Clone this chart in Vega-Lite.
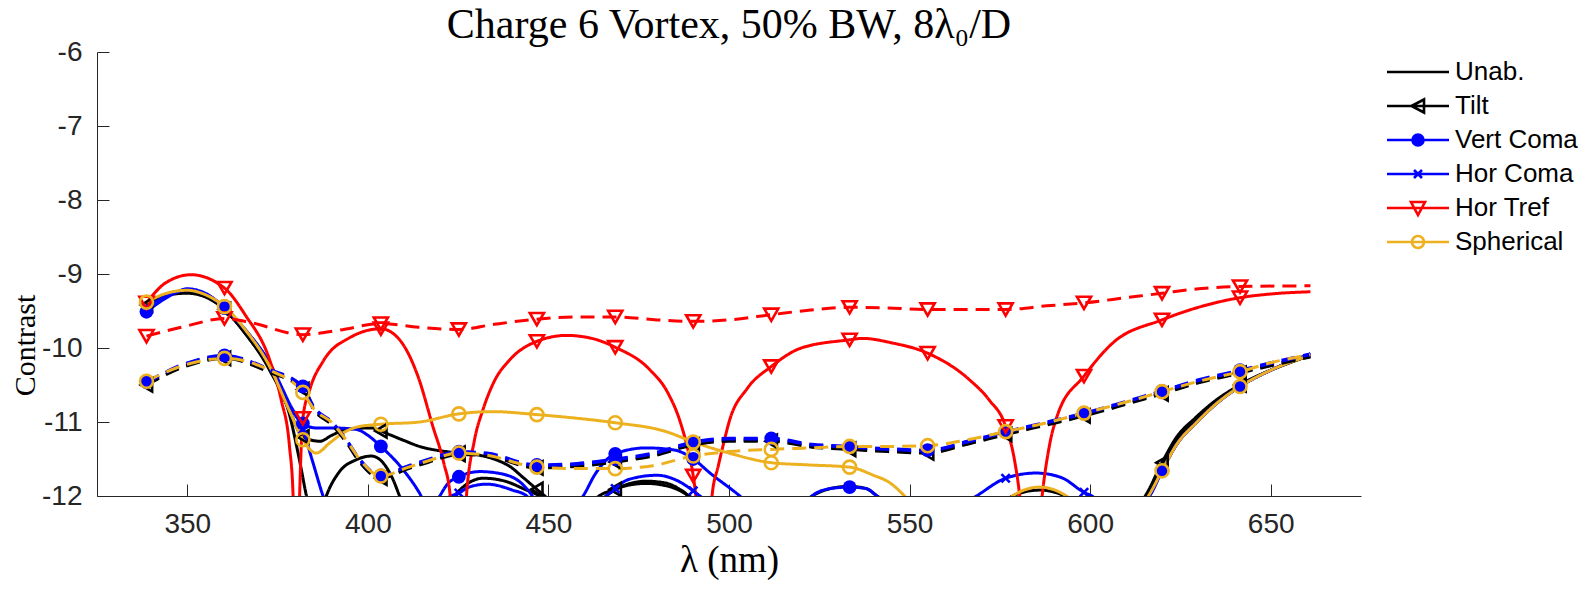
{
"$schema":"https://vega.github.io/schema/vega-lite/v6.json",
"width":1264,"height":444,
"autosize":"none",
"padding":{"left":97,"top":52,"right":225,"bottom":94},
"background":"white",
"title":{"text":"Charge 6 Vortex, 50% BW, 8λ₀/D","font":"Liberation Serif","fontSize":42,"fontWeight":"normal","color":"black","offset":8,"dy":17},
"config":{"view":{"stroke":null},"axis":{"grid":false,"domainColor":"#262626","tickColor":"#262626","labelColor":"#262626","labelFont":"Liberation Sans","labelFontSize":28,"tickSize":-12,"domainWidth":1,"tickWidth":1,"titleFont":"Liberation Serif","titleFontWeight":"normal","titleColor":"black"}},
"datasets":{"d":[
{"wl":338.7,"c":-9.4,"ab":"Unab.","st":"s"},{"wl":345,"c":-9.27,"ab":"Unab.","st":"s"},{"wl":350,"c":-9.25,"ab":"Unab.","st":"s"},{"wl":355,"c":-9.3,"ab":"Unab.","st":"s"},{"wl":360.3,"c":-9.48,"ab":"Unab.","st":"s"},{"wl":366,"c":-9.8,"ab":"Unab.","st":"s"},{"wl":372.8,"c":-10.3,"ab":"Unab.","st":"s"},{"wl":378.3,"c":-10.9,"ab":"Unab.","st":"s"},{"wl":381,"c":-11.5,"ab":"Unab.","st":"s"},{"wl":383,"c":-12,"ab":"Unab.","st":"s"},{"wl":385.5,"c":-12.5,"ab":"Unab.","st":"s"},{"wl":388.5,"c":-12,"ab":"Unab.","st":"s"},{"wl":392,"c":-11.68,"ab":"Unab.","st":"s"},{"wl":396.8,"c":-11.51,"ab":"Unab.","st":"s"},{"wl":401,"c":-11.46,"ab":"Unab.","st":"s"},{"wl":403.6,"c":-11.52,"ab":"Unab.","st":"s"},{"wl":407,"c":-11.78,"ab":"Unab.","st":"s"},{"wl":408.8,"c":-12,"ab":"Unab.","st":"s"},{"wl":414,"c":-12.4,"ab":"Unab.","st":"s"},{"wl":420,"c":-12.3,"ab":"Unab.","st":"s"},{"wl":424,"c":-12,"ab":"Unab.","st":"s"},{"wl":428,"c":-11.82,"ab":"Unab.","st":"s"},{"wl":432,"c":-11.76,"ab":"Unab.","st":"s"},{"wl":438,"c":-11.8,"ab":"Unab.","st":"s"},{"wl":443.9,"c":-11.92,"ab":"Unab.","st":"s"},{"wl":447.6,"c":-12,"ab":"Unab.","st":"s"},{"wl":455,"c":-12.3,"ab":"Unab.","st":"s"},{"wl":462,"c":-12.2,"ab":"Unab.","st":"s"},{"wl":466,"c":-12,"ab":"Unab.","st":"s"},{"wl":470,"c":-11.88,"ab":"Unab.","st":"s"},{"wl":477,"c":-11.83,"ab":"Unab.","st":"s"},{"wl":484,"c":-11.88,"ab":"Unab.","st":"s"},{"wl":489,"c":-12,"ab":"Unab.","st":"s"},{"wl":500,"c":-12.5,"ab":"Unab.","st":"s"},{"wl":512,"c":-12.5,"ab":"Unab.","st":"s"},{"wl":523,"c":-12,"ab":"Unab.","st":"s"},{"wl":528,"c":-11.9,"ab":"Unab.","st":"s"},{"wl":533.4,"c":-11.87,"ab":"Unab.","st":"s"},{"wl":538,"c":-11.9,"ab":"Unab.","st":"s"},{"wl":541,"c":-12,"ab":"Unab.","st":"s"},{"wl":555,"c":-12.5,"ab":"Unab.","st":"s"},{"wl":570,"c":-12.4,"ab":"Unab.","st":"s"},{"wl":578.5,"c":-12,"ab":"Unab.","st":"s"},{"wl":586,"c":-11.92,"ab":"Unab.","st":"s"},{"wl":593,"c":-12,"ab":"Unab.","st":"s"},{"wl":605,"c":-12.5,"ab":"Unab.","st":"s"},{"wl":612,"c":-12.3,"ab":"Unab.","st":"s"},{"wl":616,"c":-12,"ab":"Unab.","st":"s"},{"wl":619.9,"c":-11.62,"ab":"Unab.","st":"s"},{"wl":624,"c":-11.25,"ab":"Unab.","st":"s"},{"wl":629.4,"c":-10.98,"ab":"Unab.","st":"s"},{"wl":635,"c":-10.73,"ab":"Unab.","st":"s"},{"wl":641.5,"c":-10.5,"ab":"Unab.","st":"s"},{"wl":650,"c":-10.3,"ab":"Unab.","st":"s"},{"wl":661,"c":-10.1,"ab":"Unab.","st":"s"},

{"wl":338.7,"c":-9.42,"ab":"Tilt","st":"s","m":1},{"wl":345,"c":-9.28,"ab":"Tilt","st":"s"},{"wl":350,"c":-9.26,"ab":"Tilt","st":"s"},{"wl":355,"c":-9.31,"ab":"Tilt","st":"s"},{"wl":360.3,"c":-9.48,"ab":"Tilt","st":"s","m":1},{"wl":366,"c":-9.8,"ab":"Tilt","st":"s"},{"wl":372.8,"c":-10.28,"ab":"Tilt","st":"s"},{"wl":378.3,"c":-10.85,"ab":"Tilt","st":"s"},{"wl":382,"c":-11.2,"ab":"Tilt","st":"s","m":1},{"wl":386.7,"c":-11.26,"ab":"Tilt","st":"s"},{"wl":390,"c":-11.18,"ab":"Tilt","st":"s"},{"wl":394.1,"c":-11.1,"ab":"Tilt","st":"s"},{"wl":401,"c":-11.08,"ab":"Tilt","st":"s"},{"wl":403.6,"c":-11.12,"ab":"Tilt","st":"s","m":1},{"wl":406,"c":-11.17,"ab":"Tilt","st":"s"},{"wl":410,"c":-11.25,"ab":"Tilt","st":"s"},{"wl":414.3,"c":-11.33,"ab":"Tilt","st":"s"},{"wl":421.7,"c":-11.4,"ab":"Tilt","st":"s"},{"wl":425.2,"c":-11.42,"ab":"Tilt","st":"s","m":1},{"wl":431,"c":-11.45,"ab":"Tilt","st":"s"},{"wl":436,"c":-11.52,"ab":"Tilt","st":"s"},{"wl":439.3,"c":-11.6,"ab":"Tilt","st":"s"},{"wl":443,"c":-11.75,"ab":"Tilt","st":"s"},{"wl":446.8,"c":-11.91,"ab":"Tilt","st":"s","m":1},{"wl":449,"c":-12,"ab":"Tilt","st":"s"},{"wl":455,"c":-12.3,"ab":"Tilt","st":"s"},{"wl":460,"c":-12.2,"ab":"Tilt","st":"s"},{"wl":464,"c":-12,"ab":"Tilt","st":"s"},{"wl":468.5,"c":-11.91,"ab":"Tilt","st":"s","m":1},{"wl":472,"c":-11.84,"ab":"Tilt","st":"s"},{"wl":477,"c":-11.8,"ab":"Tilt","st":"s"},{"wl":482,"c":-11.82,"ab":"Tilt","st":"s"},{"wl":486,"c":-11.9,"ab":"Tilt","st":"s"},{"wl":488.5,"c":-12,"ab":"Tilt","st":"s"},{"wl":490.1,"c":-12.2,"ab":"Tilt","st":"s","m":1},{"wl":500,"c":-12.6,"ab":"Tilt","st":"s"},{"wl":511.7,"c":-12.7,"ab":"Tilt","st":"s","m":1},{"wl":533.4,"c":-12.5,"ab":"Tilt","st":"s","m":1},{"wl":555,"c":-12.8,"ab":"Tilt","st":"s","m":1},{"wl":576.6,"c":-12.5,"ab":"Tilt","st":"s","m":1},{"wl":598.3,"c":-12.4,"ab":"Tilt","st":"s","m":1},{"wl":610,"c":-12.3,"ab":"Tilt","st":"s"},{"wl":615.5,"c":-11.98,"ab":"Tilt","st":"s"},{"wl":619.9,"c":-11.55,"ab":"Tilt","st":"s","m":1},{"wl":624,"c":-11.2,"ab":"Tilt","st":"s"},{"wl":629,"c":-10.95,"ab":"Tilt","st":"s"},{"wl":635,"c":-10.7,"ab":"Tilt","st":"s"},{"wl":641.5,"c":-10.5,"ab":"Tilt","st":"s","m":1},{"wl":650,"c":-10.3,"ab":"Tilt","st":"s"},{"wl":661,"c":-10.1,"ab":"Tilt","st":"s"},

{"wl":338.7,"c":-9.51,"ab":"Vert Coma","st":"s","m":1},{"wl":345,"c":-9.3,"ab":"Vert Coma","st":"s"},{"wl":350,"c":-9.2,"ab":"Vert Coma","st":"s"},{"wl":355,"c":-9.26,"ab":"Vert Coma","st":"s"},{"wl":360.3,"c":-9.46,"ab":"Vert Coma","st":"s","m":1},{"wl":366,"c":-9.75,"ab":"Vert Coma","st":"s"},{"wl":372.8,"c":-10.22,"ab":"Vert Coma","st":"s"},{"wl":378.3,"c":-10.79,"ab":"Vert Coma","st":"s"},{"wl":382,"c":-11.02,"ab":"Vert Coma","st":"s","m":1},{"wl":385.7,"c":-11.08,"ab":"Vert Coma","st":"s"},{"wl":390,"c":-11.08,"ab":"Vert Coma","st":"s"},{"wl":396.8,"c":-11.1,"ab":"Vert Coma","st":"s"},{"wl":400,"c":-11.18,"ab":"Vert Coma","st":"s"},{"wl":403.6,"c":-11.33,"ab":"Vert Coma","st":"s","m":1},{"wl":409,"c":-11.6,"ab":"Vert Coma","st":"s"},{"wl":414.3,"c":-11.96,"ab":"Vert Coma","st":"s"},{"wl":417,"c":-12.2,"ab":"Vert Coma","st":"s"},{"wl":419.9,"c":-12,"ab":"Vert Coma","st":"s"},{"wl":422,"c":-11.84,"ab":"Vert Coma","st":"s"},{"wl":425.2,"c":-11.74,"ab":"Vert Coma","st":"s","m":1},{"wl":431,"c":-11.67,"ab":"Vert Coma","st":"s"},{"wl":437,"c":-11.7,"ab":"Vert Coma","st":"s"},{"wl":443,"c":-11.85,"ab":"Vert Coma","st":"s"},{"wl":445.5,"c":-12,"ab":"Vert Coma","st":"s"},{"wl":446.8,"c":-12.12,"ab":"Vert Coma","st":"s","m":1},{"wl":452,"c":-12.3,"ab":"Vert Coma","st":"s"},{"wl":459.6,"c":-12,"ab":"Vert Coma","st":"s"},{"wl":463,"c":-11.7,"ab":"Vert Coma","st":"s"},{"wl":468.5,"c":-11.43,"ab":"Vert Coma","st":"s","m":1},{"wl":477,"c":-11.35,"ab":"Vert Coma","st":"s"},{"wl":485,"c":-11.38,"ab":"Vert Coma","st":"s"},{"wl":490.1,"c":-11.5,"ab":"Vert Coma","st":"s","m":1},{"wl":495,"c":-11.7,"ab":"Vert Coma","st":"s"},{"wl":503,"c":-12,"ab":"Vert Coma","st":"s"},{"wl":511.7,"c":-12.4,"ab":"Vert Coma","st":"s","m":1},{"wl":520,"c":-12.2,"ab":"Vert Coma","st":"s"},{"wl":523,"c":-12,"ab":"Vert Coma","st":"s"},{"wl":528,"c":-11.9,"ab":"Vert Coma","st":"s"},{"wl":533.4,"c":-11.88,"ab":"Vert Coma","st":"s","m":1},{"wl":538,"c":-11.9,"ab":"Vert Coma","st":"s"},{"wl":541,"c":-12,"ab":"Vert Coma","st":"s"},{"wl":555,"c":-12.5,"ab":"Vert Coma","st":"s","m":1},{"wl":576.6,"c":-12.4,"ab":"Vert Coma","st":"s","m":1},{"wl":598.3,"c":-12.4,"ab":"Vert Coma","st":"s","m":1},{"wl":610,"c":-12.3,"ab":"Vert Coma","st":"s"},{"wl":616.4,"c":-12,"ab":"Vert Coma","st":"s"},{"wl":619.9,"c":-11.66,"ab":"Vert Coma","st":"s","m":1},{"wl":624,"c":-11.3,"ab":"Vert Coma","st":"s"},{"wl":629.4,"c":-11.01,"ab":"Vert Coma","st":"s"},{"wl":635,"c":-10.75,"ab":"Vert Coma","st":"s"},{"wl":641.5,"c":-10.52,"ab":"Vert Coma","st":"s","m":1},{"wl":650,"c":-10.3,"ab":"Vert Coma","st":"s"},{"wl":661,"c":-10.08,"ab":"Vert Coma","st":"s"},

{"wl":338.7,"c":-9.45,"ab":"Hor Coma","st":"s","m":1},{"wl":345,"c":-9.28,"ab":"Hor Coma","st":"s"},{"wl":350,"c":-9.22,"ab":"Hor Coma","st":"s"},{"wl":355,"c":-9.27,"ab":"Hor Coma","st":"s"},{"wl":360.3,"c":-9.45,"ab":"Hor Coma","st":"s","m":1},{"wl":366,"c":-9.75,"ab":"Hor Coma","st":"s"},{"wl":372.8,"c":-10.2,"ab":"Hor Coma","st":"s"},{"wl":378.3,"c":-10.75,"ab":"Hor Coma","st":"s"},{"wl":382,"c":-11.1,"ab":"Hor Coma","st":"s","m":1},{"wl":384.5,"c":-11.5,"ab":"Hor Coma","st":"s"},{"wl":387.6,"c":-12,"ab":"Hor Coma","st":"s"},{"wl":392,"c":-12.5,"ab":"Hor Coma","st":"s"},{"wl":403.6,"c":-12.6,"ab":"Hor Coma","st":"s","m":1},{"wl":418,"c":-12.2,"ab":"Hor Coma","st":"s"},{"wl":423,"c":-12,"ab":"Hor Coma","st":"s"},{"wl":425.2,"c":-11.96,"ab":"Hor Coma","st":"s","m":1},{"wl":428,"c":-11.88,"ab":"Hor Coma","st":"s"},{"wl":433,"c":-11.84,"ab":"Hor Coma","st":"s"},{"wl":440,"c":-11.92,"ab":"Hor Coma","st":"s"},{"wl":444,"c":-12,"ab":"Hor Coma","st":"s"},{"wl":446.8,"c":-12.2,"ab":"Hor Coma","st":"s","m":1},{"wl":455,"c":-12.4,"ab":"Hor Coma","st":"s"},{"wl":462,"c":-12.2,"ab":"Hor Coma","st":"s"},{"wl":466,"c":-12,"ab":"Hor Coma","st":"s"},{"wl":468.5,"c":-11.9,"ab":"Hor Coma","st":"s","m":1},{"wl":472,"c":-11.78,"ab":"Hor Coma","st":"s"},{"wl":480,"c":-11.72,"ab":"Hor Coma","st":"s"},{"wl":486,"c":-11.8,"ab":"Hor Coma","st":"s"},{"wl":490.1,"c":-11.93,"ab":"Hor Coma","st":"s","m":1},{"wl":492,"c":-12,"ab":"Hor Coma","st":"s"},{"wl":511.7,"c":-12.5,"ab":"Hor Coma","st":"s","m":1},{"wl":533.4,"c":-12.6,"ab":"Hor Coma","st":"s","m":1},{"wl":555,"c":-12.4,"ab":"Hor Coma","st":"s","m":1},{"wl":568.5,"c":-12,"ab":"Hor Coma","st":"s"},{"wl":576.6,"c":-11.76,"ab":"Hor Coma","st":"s","m":1},{"wl":585,"c":-11.69,"ab":"Hor Coma","st":"s"},{"wl":592,"c":-11.75,"ab":"Hor Coma","st":"s"},{"wl":598.3,"c":-11.95,"ab":"Hor Coma","st":"s","m":1},{"wl":600.5,"c":-12,"ab":"Hor Coma","st":"s"},{"wl":607,"c":-12.3,"ab":"Hor Coma","st":"s"},{"wl":613,"c":-12.1,"ab":"Hor Coma","st":"s"},{"wl":616.4,"c":-12,"ab":"Hor Coma","st":"s"},{"wl":619.9,"c":-11.66,"ab":"Hor Coma","st":"s","m":1},{"wl":624,"c":-11.3,"ab":"Hor Coma","st":"s"},{"wl":629.4,"c":-11.01,"ab":"Hor Coma","st":"s"},{"wl":635,"c":-10.75,"ab":"Hor Coma","st":"s"},{"wl":641.5,"c":-10.52,"ab":"Hor Coma","st":"s","m":1},{"wl":650,"c":-10.3,"ab":"Hor Coma","st":"s"},{"wl":661,"c":-10.08,"ab":"Hor Coma","st":"s"},

{"wl":338.7,"c":-9.39,"ab":"Hor Tref","st":"s","m":1},{"wl":344,"c":-9.12,"ab":"Hor Tref","st":"s"},{"wl":351,"c":-9.01,"ab":"Hor Tref","st":"s"},{"wl":360.3,"c":-9.19,"ab":"Hor Tref","st":"s","m":1},{"wl":366,"c":-9.55,"ab":"Hor Tref","st":"s"},{"wl":372.8,"c":-10.16,"ab":"Hor Tref","st":"s"},{"wl":376,"c":-10.7,"ab":"Hor Tref","st":"s"},{"wl":378.3,"c":-11.33,"ab":"Hor Tref","st":"s"},{"wl":379.3,"c":-12,"ab":"Hor Tref","st":"s"},{"wl":380.2,"c":-14,"ab":"Hor Tref","st":"s"},{"wl":381.1,"c":-12,"ab":"Hor Tref","st":"s"},{"wl":382,"c":-10.95,"ab":"Hor Tref","st":"s","m":1},{"wl":384,"c":-10.55,"ab":"Hor Tref","st":"s"},{"wl":387.6,"c":-10.18,"ab":"Hor Tref","st":"s"},{"wl":395,"c":-9.86,"ab":"Hor Tref","st":"s"},{"wl":403.6,"c":-9.74,"ab":"Hor Tref","st":"s","m":1},{"wl":408.8,"c":-9.89,"ab":"Hor Tref","st":"s"},{"wl":414,"c":-10.4,"ab":"Hor Tref","st":"s"},{"wl":418,"c":-11.06,"ab":"Hor Tref","st":"s"},{"wl":421,"c":-11.55,"ab":"Hor Tref","st":"s"},{"wl":422.8,"c":-12,"ab":"Hor Tref","st":"s"},{"wl":425.2,"c":-14,"ab":"Hor Tref","st":"s","m":1},{"wl":427.3,"c":-12,"ab":"Hor Tref","st":"s"},{"wl":429.5,"c":-11.25,"ab":"Hor Tref","st":"s"},{"wl":431.9,"c":-10.83,"ab":"Hor Tref","st":"s"},{"wl":435,"c":-10.45,"ab":"Hor Tref","st":"s"},{"wl":439.3,"c":-10.16,"ab":"Hor Tref","st":"s"},{"wl":446.8,"c":-9.91,"ab":"Hor Tref","st":"s","m":1},{"wl":455,"c":-9.83,"ab":"Hor Tref","st":"s"},{"wl":462,"c":-9.87,"ab":"Hor Tref","st":"s"},{"wl":468.5,"c":-9.99,"ab":"Hor Tref","st":"s","m":1},{"wl":478,"c":-10.29,"ab":"Hor Tref","st":"s"},{"wl":483,"c":-10.6,"ab":"Hor Tref","st":"s"},{"wl":486.3,"c":-10.97,"ab":"Hor Tref","st":"s"},{"wl":488.5,"c":-11.35,"ab":"Hor Tref","st":"s"},{"wl":490.1,"c":-11.73,"ab":"Hor Tref","st":"s","m":1},{"wl":490.8,"c":-12,"ab":"Hor Tref","st":"s"},{"wl":493,"c":-14,"ab":"Hor Tref","st":"s"},{"wl":495.3,"c":-12,"ab":"Hor Tref","st":"s"},{"wl":497,"c":-11.6,"ab":"Hor Tref","st":"s"},{"wl":498.3,"c":-11.33,"ab":"Hor Tref","st":"s"},{"wl":500.2,"c":-10.97,"ab":"Hor Tref","st":"s"},{"wl":505,"c":-10.55,"ab":"Hor Tref","st":"s"},{"wl":511.7,"c":-10.25,"ab":"Hor Tref","st":"s","m":1},{"wl":520,"c":-10.0,"ab":"Hor Tref","st":"s"},{"wl":533.4,"c":-9.89,"ab":"Hor Tref","st":"s","m":1},{"wl":537,"c":-9.87,"ab":"Hor Tref","st":"s"},{"wl":545,"c":-9.93,"ab":"Hor Tref","st":"s"},{"wl":555,"c":-10.07,"ab":"Hor Tref","st":"s","m":1},{"wl":566.6,"c":-10.43,"ab":"Hor Tref","st":"s"},{"wl":572,"c":-10.7,"ab":"Hor Tref","st":"s"},{"wl":576.6,"c":-11.06,"ab":"Hor Tref","st":"s","m":1},{"wl":579,"c":-11.5,"ab":"Hor Tref","st":"s"},{"wl":580.5,"c":-12,"ab":"Hor Tref","st":"s"},{"wl":583.5,"c":-14,"ab":"Hor Tref","st":"s"},{"wl":586.7,"c":-12,"ab":"Hor Tref","st":"s"},{"wl":588.8,"c":-11.3,"ab":"Hor Tref","st":"s"},{"wl":591,"c":-10.9,"ab":"Hor Tref","st":"s"},{"wl":598.3,"c":-10.38,"ab":"Hor Tref","st":"s","m":1},{"wl":606.3,"c":-9.93,"ab":"Hor Tref","st":"s"},{"wl":619.9,"c":-9.62,"ab":"Hor Tref","st":"s","m":1},{"wl":630,"c":-9.45,"ab":"Hor Tref","st":"s"},{"wl":641.5,"c":-9.32,"ab":"Hor Tref","st":"s","m":1},{"wl":650,"c":-9.27,"ab":"Hor Tref","st":"s"},{"wl":661,"c":-9.24,"ab":"Hor Tref","st":"s"},

{"wl":338.7,"c":-9.38,"ab":"Spherical","st":"s","m":1},{"wl":345,"c":-9.25,"ab":"Spherical","st":"s"},{"wl":350,"c":-9.22,"ab":"Spherical","st":"s"},{"wl":355,"c":-9.28,"ab":"Spherical","st":"s"},{"wl":360.3,"c":-9.44,"ab":"Spherical","st":"s","m":1},{"wl":366,"c":-9.75,"ab":"Spherical","st":"s"},{"wl":372.8,"c":-10.25,"ab":"Spherical","st":"s"},{"wl":378.3,"c":-10.85,"ab":"Spherical","st":"s"},{"wl":382,"c":-11.24,"ab":"Spherical","st":"s","m":1},{"wl":385.7,"c":-11.42,"ab":"Spherical","st":"s"},{"wl":389.5,"c":-11.28,"ab":"Spherical","st":"s"},{"wl":393.1,"c":-11.15,"ab":"Spherical","st":"s"},{"wl":396.8,"c":-11.07,"ab":"Spherical","st":"s"},{"wl":403.6,"c":-11.03,"ab":"Spherical","st":"s","m":1},{"wl":414.3,"c":-11.0,"ab":"Spherical","st":"s"},{"wl":425.2,"c":-10.89,"ab":"Spherical","st":"s","m":1},{"wl":434.6,"c":-10.86,"ab":"Spherical","st":"s"},{"wl":446.8,"c":-10.9,"ab":"Spherical","st":"s","m":1},{"wl":458,"c":-10.95,"ab":"Spherical","st":"s"},{"wl":468.5,"c":-11.01,"ab":"Spherical","st":"s","m":1},{"wl":482.6,"c":-11.13,"ab":"Spherical","st":"s"},{"wl":490.1,"c":-11.27,"ab":"Spherical","st":"s","m":1},{"wl":500,"c":-11.42,"ab":"Spherical","st":"s"},{"wl":511.7,"c":-11.55,"ab":"Spherical","st":"s","m":1},{"wl":522,"c":-11.58,"ab":"Spherical","st":"s"},{"wl":533.4,"c":-11.61,"ab":"Spherical","st":"s","m":1},{"wl":540,"c":-11.72,"ab":"Spherical","st":"s"},{"wl":544.5,"c":-11.82,"ab":"Spherical","st":"s"},{"wl":548.6,"c":-12,"ab":"Spherical","st":"s"},{"wl":555,"c":-12.4,"ab":"Spherical","st":"s","m":1},{"wl":565,"c":-12.6,"ab":"Spherical","st":"s"},{"wl":572,"c":-12.4,"ab":"Spherical","st":"s"},{"wl":576.6,"c":-12.2,"ab":"Spherical","st":"s","m":1},{"wl":578.5,"c":-12,"ab":"Spherical","st":"s"},{"wl":586,"c":-11.88,"ab":"Spherical","st":"s"},{"wl":593.4,"c":-12,"ab":"Spherical","st":"s"},{"wl":598.3,"c":-12.3,"ab":"Spherical","st":"s","m":1},{"wl":605,"c":-12.6,"ab":"Spherical","st":"s"},{"wl":612,"c":-12.3,"ab":"Spherical","st":"s"},{"wl":616.4,"c":-11.98,"ab":"Spherical","st":"s"},{"wl":619.9,"c":-11.66,"ab":"Spherical","st":"s","m":1},{"wl":624,"c":-11.3,"ab":"Spherical","st":"s"},{"wl":629.4,"c":-11.01,"ab":"Spherical","st":"s"},{"wl":635,"c":-10.75,"ab":"Spherical","st":"s"},{"wl":641.5,"c":-10.52,"ab":"Spherical","st":"s","m":1},{"wl":650,"c":-10.3,"ab":"Spherical","st":"s"},{"wl":661,"c":-10.1,"ab":"Spherical","st":"s"},

{"wl":338.7,"c":-9.84,"ab":"Hor Tref","st":"d","m":1},{"wl":350,"c":-9.7,"ab":"Hor Tref","st":"d"},{"wl":360.3,"c":-9.6,"ab":"Hor Tref","st":"d","m":1},{"wl":367,"c":-9.65,"ab":"Hor Tref","st":"d"},{"wl":382,"c":-9.82,"ab":"Hor Tref","st":"d","m":1},{"wl":392,"c":-9.76,"ab":"Hor Tref","st":"d"},{"wl":403.6,"c":-9.67,"ab":"Hor Tref","st":"d","m":1},{"wl":414,"c":-9.72,"ab":"Hor Tref","st":"d"},{"wl":425.2,"c":-9.75,"ab":"Hor Tref","st":"d","m":1},{"wl":435,"c":-9.68,"ab":"Hor Tref","st":"d"},{"wl":446.8,"c":-9.61,"ab":"Hor Tref","st":"d","m":1},{"wl":458,"c":-9.58,"ab":"Hor Tref","st":"d"},{"wl":468.5,"c":-9.58,"ab":"Hor Tref","st":"d","m":1},{"wl":480,"c":-9.62,"ab":"Hor Tref","st":"d"},{"wl":490.1,"c":-9.64,"ab":"Hor Tref","st":"d","m":1},{"wl":500,"c":-9.62,"ab":"Hor Tref","st":"d"},{"wl":511.7,"c":-9.55,"ab":"Hor Tref","st":"d","m":1},{"wl":522,"c":-9.49,"ab":"Hor Tref","st":"d"},{"wl":533.4,"c":-9.45,"ab":"Hor Tref","st":"d","m":1},{"wl":544,"c":-9.46,"ab":"Hor Tref","st":"d"},{"wl":555,"c":-9.48,"ab":"Hor Tref","st":"d","m":1},{"wl":566,"c":-9.48,"ab":"Hor Tref","st":"d"},{"wl":576.6,"c":-9.48,"ab":"Hor Tref","st":"d","m":1},{"wl":588,"c":-9.43,"ab":"Hor Tref","st":"d"},{"wl":598.3,"c":-9.39,"ab":"Hor Tref","st":"d","m":1},{"wl":610,"c":-9.32,"ab":"Hor Tref","st":"d"},{"wl":619.9,"c":-9.26,"ab":"Hor Tref","st":"d","m":1},{"wl":630,"c":-9.2,"ab":"Hor Tref","st":"d"},{"wl":641.5,"c":-9.17,"ab":"Hor Tref","st":"d","m":1},{"wl":661,"c":-9.16,"ab":"Hor Tref","st":"d"},

{"wl":338.7,"c":-10.49,"ab":"Unab.","st":"d"},{"wl":350,"c":-10.23,"ab":"Unab.","st":"d"},{"wl":360.3,"c":-10.13,"ab":"Unab.","st":"d"},{"wl":372.8,"c":-10.32,"ab":"Unab.","st":"d"},{"wl":382,"c":-10.55,"ab":"Unab.","st":"d"},{"wl":385,"c":-10.82,"ab":"Unab.","st":"d"},{"wl":390.3,"c":-11.04,"ab":"Unab.","st":"d"},{"wl":394.1,"c":-11.27,"ab":"Unab.","st":"d"},{"wl":397.7,"c":-11.53,"ab":"Unab.","st":"d"},{"wl":403.6,"c":-11.75,"ab":"Unab.","st":"d"},{"wl":410.7,"c":-11.63,"ab":"Unab.","st":"d"},{"wl":417,"c":-11.53,"ab":"Unab.","st":"d"},{"wl":425.2,"c":-11.43,"ab":"Unab.","st":"d"},{"wl":433,"c":-11.45,"ab":"Unab.","st":"d"},{"wl":446.8,"c":-11.61,"ab":"Unab.","st":"d"},{"wl":458,"c":-11.59,"ab":"Unab.","st":"d"},{"wl":468.5,"c":-11.53,"ab":"Unab.","st":"d"},{"wl":478.9,"c":-11.45,"ab":"Unab.","st":"d"},{"wl":490.1,"c":-11.3,"ab":"Unab.","st":"d"},{"wl":500,"c":-11.25,"ab":"Unab.","st":"d"},{"wl":511.7,"c":-11.25,"ab":"Unab.","st":"d"},{"wl":523,"c":-11.33,"ab":"Unab.","st":"d"},{"wl":533.4,"c":-11.36,"ab":"Unab.","st":"d"},{"wl":544,"c":-11.39,"ab":"Unab.","st":"d"},{"wl":555,"c":-11.41,"ab":"Unab.","st":"d"},{"wl":566,"c":-11.29,"ab":"Unab.","st":"d"},{"wl":576.6,"c":-11.16,"ab":"Unab.","st":"d"},{"wl":588,"c":-11.03,"ab":"Unab.","st":"d"},{"wl":598.3,"c":-10.91,"ab":"Unab.","st":"d"},{"wl":610,"c":-10.75,"ab":"Unab.","st":"d"},{"wl":619.9,"c":-10.61,"ab":"Unab.","st":"d"},{"wl":630,"c":-10.46,"ab":"Unab.","st":"d"},{"wl":641.5,"c":-10.33,"ab":"Unab.","st":"d"},{"wl":650,"c":-10.23,"ab":"Unab.","st":"d"},{"wl":661,"c":-10.11,"ab":"Unab.","st":"d"},

{"wl":338.7,"c":-10.5,"ab":"Tilt","st":"d","m":1},{"wl":350,"c":-10.24,"ab":"Tilt","st":"d"},{"wl":360.3,"c":-10.14,"ab":"Tilt","st":"d","m":1},{"wl":372.8,"c":-10.33,"ab":"Tilt","st":"d"},{"wl":382,"c":-10.56,"ab":"Tilt","st":"d","m":1},{"wl":385,"c":-10.83,"ab":"Tilt","st":"d"},{"wl":390.3,"c":-11.05,"ab":"Tilt","st":"d"},{"wl":394.1,"c":-11.28,"ab":"Tilt","st":"d"},{"wl":397.7,"c":-11.54,"ab":"Tilt","st":"d"},{"wl":403.6,"c":-11.76,"ab":"Tilt","st":"d","m":1},{"wl":410.7,"c":-11.64,"ab":"Tilt","st":"d"},{"wl":417,"c":-11.54,"ab":"Tilt","st":"d"},{"wl":425.2,"c":-11.44,"ab":"Tilt","st":"d","m":1},{"wl":433,"c":-11.46,"ab":"Tilt","st":"d"},{"wl":446.8,"c":-11.62,"ab":"Tilt","st":"d","m":1},{"wl":458,"c":-11.6,"ab":"Tilt","st":"d"},{"wl":468.5,"c":-11.54,"ab":"Tilt","st":"d","m":1},{"wl":478.9,"c":-11.46,"ab":"Tilt","st":"d"},{"wl":490.1,"c":-11.31,"ab":"Tilt","st":"d","m":1},{"wl":500,"c":-11.26,"ab":"Tilt","st":"d"},{"wl":511.7,"c":-11.26,"ab":"Tilt","st":"d","m":1},{"wl":523,"c":-11.34,"ab":"Tilt","st":"d"},{"wl":533.4,"c":-11.37,"ab":"Tilt","st":"d","m":1},{"wl":544,"c":-11.4,"ab":"Tilt","st":"d"},{"wl":555,"c":-11.42,"ab":"Tilt","st":"d","m":1},{"wl":566,"c":-11.3,"ab":"Tilt","st":"d"},{"wl":576.6,"c":-11.17,"ab":"Tilt","st":"d","m":1},{"wl":588,"c":-11.04,"ab":"Tilt","st":"d"},{"wl":598.3,"c":-10.92,"ab":"Tilt","st":"d","m":1},{"wl":610,"c":-10.76,"ab":"Tilt","st":"d"},{"wl":619.9,"c":-10.62,"ab":"Tilt","st":"d","m":1},{"wl":630,"c":-10.47,"ab":"Tilt","st":"d"},{"wl":641.5,"c":-10.34,"ab":"Tilt","st":"d","m":1},{"wl":650,"c":-10.24,"ab":"Tilt","st":"d"},{"wl":661,"c":-10.12,"ab":"Tilt","st":"d"},

{"wl":338.7,"c":-10.46,"ab":"Vert Coma","st":"d","m":1},{"wl":350,"c":-10.2,"ab":"Vert Coma","st":"d"},{"wl":360.3,"c":-10.1,"ab":"Vert Coma","st":"d","m":1},{"wl":372.8,"c":-10.29,"ab":"Vert Coma","st":"d"},{"wl":382,"c":-10.52,"ab":"Vert Coma","st":"d","m":1},{"wl":385,"c":-10.79,"ab":"Vert Coma","st":"d"},{"wl":390.3,"c":-11.01,"ab":"Vert Coma","st":"d"},{"wl":394.1,"c":-11.24,"ab":"Vert Coma","st":"d"},{"wl":397.7,"c":-11.5,"ab":"Vert Coma","st":"d"},{"wl":403.6,"c":-11.72,"ab":"Vert Coma","st":"d","m":1},{"wl":410.7,"c":-11.6,"ab":"Vert Coma","st":"d"},{"wl":417,"c":-11.5,"ab":"Vert Coma","st":"d"},{"wl":425.2,"c":-11.4,"ab":"Vert Coma","st":"d","m":1},{"wl":433,"c":-11.42,"ab":"Vert Coma","st":"d"},{"wl":446.8,"c":-11.58,"ab":"Vert Coma","st":"d","m":1},{"wl":458,"c":-11.56,"ab":"Vert Coma","st":"d"},{"wl":468.5,"c":-11.5,"ab":"Vert Coma","st":"d","m":1},{"wl":478.9,"c":-11.42,"ab":"Vert Coma","st":"d"},{"wl":490.1,"c":-11.27,"ab":"Vert Coma","st":"d","m":1},{"wl":500,"c":-11.22,"ab":"Vert Coma","st":"d"},{"wl":511.7,"c":-11.22,"ab":"Vert Coma","st":"d","m":1},{"wl":523,"c":-11.3,"ab":"Vert Coma","st":"d"},{"wl":533.4,"c":-11.33,"ab":"Vert Coma","st":"d","m":1},{"wl":544,"c":-11.36,"ab":"Vert Coma","st":"d"},{"wl":555,"c":-11.38,"ab":"Vert Coma","st":"d","m":1},{"wl":566,"c":-11.26,"ab":"Vert Coma","st":"d"},{"wl":576.6,"c":-11.13,"ab":"Vert Coma","st":"d","m":1},{"wl":588,"c":-11.0,"ab":"Vert Coma","st":"d"},{"wl":598.3,"c":-10.88,"ab":"Vert Coma","st":"d","m":1},{"wl":610,"c":-10.72,"ab":"Vert Coma","st":"d"},{"wl":619.9,"c":-10.58,"ab":"Vert Coma","st":"d","m":1},{"wl":630,"c":-10.43,"ab":"Vert Coma","st":"d"},{"wl":641.5,"c":-10.3,"ab":"Vert Coma","st":"d","m":1},{"wl":650,"c":-10.2,"ab":"Vert Coma","st":"d"},{"wl":661,"c":-10.08,"ab":"Vert Coma","st":"d"},

{"wl":338.7,"c":-10.47,"ab":"Hor Coma","st":"d","m":1},{"wl":350,"c":-10.21,"ab":"Hor Coma","st":"d"},{"wl":360.3,"c":-10.11,"ab":"Hor Coma","st":"d","m":1},{"wl":372.8,"c":-10.3,"ab":"Hor Coma","st":"d"},{"wl":382,"c":-10.53,"ab":"Hor Coma","st":"d","m":1},{"wl":385,"c":-10.8,"ab":"Hor Coma","st":"d"},{"wl":390.3,"c":-11.02,"ab":"Hor Coma","st":"d"},{"wl":394.1,"c":-11.25,"ab":"Hor Coma","st":"d"},{"wl":397.7,"c":-11.51,"ab":"Hor Coma","st":"d"},{"wl":403.6,"c":-11.73,"ab":"Hor Coma","st":"d","m":1},{"wl":410.7,"c":-11.61,"ab":"Hor Coma","st":"d"},{"wl":417,"c":-11.51,"ab":"Hor Coma","st":"d"},{"wl":425.2,"c":-11.41,"ab":"Hor Coma","st":"d","m":1},{"wl":433,"c":-11.43,"ab":"Hor Coma","st":"d"},{"wl":446.8,"c":-11.59,"ab":"Hor Coma","st":"d","m":1},{"wl":458,"c":-11.57,"ab":"Hor Coma","st":"d"},{"wl":468.5,"c":-11.51,"ab":"Hor Coma","st":"d","m":1},{"wl":478.9,"c":-11.43,"ab":"Hor Coma","st":"d"},{"wl":490.1,"c":-11.28,"ab":"Hor Coma","st":"d","m":1},{"wl":500,"c":-11.23,"ab":"Hor Coma","st":"d"},{"wl":511.7,"c":-11.23,"ab":"Hor Coma","st":"d","m":1},{"wl":523,"c":-11.31,"ab":"Hor Coma","st":"d"},{"wl":533.4,"c":-11.34,"ab":"Hor Coma","st":"d","m":1},{"wl":544,"c":-11.37,"ab":"Hor Coma","st":"d"},{"wl":555,"c":-11.39,"ab":"Hor Coma","st":"d","m":1},{"wl":566,"c":-11.27,"ab":"Hor Coma","st":"d"},{"wl":576.6,"c":-11.14,"ab":"Hor Coma","st":"d","m":1},{"wl":588,"c":-11.01,"ab":"Hor Coma","st":"d"},{"wl":598.3,"c":-10.89,"ab":"Hor Coma","st":"d","m":1},{"wl":610,"c":-10.73,"ab":"Hor Coma","st":"d"},{"wl":619.9,"c":-10.59,"ab":"Hor Coma","st":"d","m":1},{"wl":630,"c":-10.44,"ab":"Hor Coma","st":"d"},{"wl":641.5,"c":-10.31,"ab":"Hor Coma","st":"d","m":1},{"wl":650,"c":-10.21,"ab":"Hor Coma","st":"d"},{"wl":661,"c":-10.09,"ab":"Hor Coma","st":"d"},

{"wl":338.7,"c":-10.45,"ab":"Spherical","st":"d","m":1},{"wl":350,"c":-10.22,"ab":"Spherical","st":"d"},{"wl":360.3,"c":-10.14,"ab":"Spherical","st":"d","m":1},{"wl":372.8,"c":-10.3,"ab":"Spherical","st":"d"},{"wl":382,"c":-10.6,"ab":"Spherical","st":"d","m":1},{"wl":385,"c":-10.82,"ab":"Spherical","st":"d"},{"wl":390.3,"c":-11.02,"ab":"Spherical","st":"d"},{"wl":394.1,"c":-11.25,"ab":"Spherical","st":"d"},{"wl":397.7,"c":-11.5,"ab":"Spherical","st":"d"},{"wl":403.6,"c":-11.73,"ab":"Spherical","st":"d","m":1},{"wl":410.7,"c":-11.62,"ab":"Spherical","st":"d"},{"wl":417,"c":-11.52,"ab":"Spherical","st":"d"},{"wl":425.2,"c":-11.42,"ab":"Spherical","st":"d","m":1},{"wl":433,"c":-11.45,"ab":"Spherical","st":"d"},{"wl":446.8,"c":-11.61,"ab":"Spherical","st":"d","m":1},{"wl":458,"c":-11.63,"ab":"Spherical","st":"d"},{"wl":468.5,"c":-11.63,"ab":"Spherical","st":"d","m":1},{"wl":478.9,"c":-11.59,"ab":"Spherical","st":"d"},{"wl":490.1,"c":-11.46,"ab":"Spherical","st":"d","m":1},{"wl":500,"c":-11.4,"ab":"Spherical","st":"d"},{"wl":511.7,"c":-11.37,"ab":"Spherical","st":"d","m":1},{"wl":523,"c":-11.35,"ab":"Spherical","st":"d"},{"wl":533.4,"c":-11.33,"ab":"Spherical","st":"d","m":1},{"wl":544,"c":-11.33,"ab":"Spherical","st":"d"},{"wl":555,"c":-11.32,"ab":"Spherical","st":"d","m":1},{"wl":566,"c":-11.24,"ab":"Spherical","st":"d"},{"wl":576.6,"c":-11.13,"ab":"Spherical","st":"d","m":1},{"wl":588,"c":-11.01,"ab":"Spherical","st":"d"},{"wl":598.3,"c":-10.88,"ab":"Spherical","st":"d","m":1},{"wl":610,"c":-10.73,"ab":"Spherical","st":"d"},{"wl":619.9,"c":-10.59,"ab":"Spherical","st":"d","m":1},{"wl":630,"c":-10.45,"ab":"Spherical","st":"d"},{"wl":641.5,"c":-10.32,"ab":"Spherical","st":"d","m":1},{"wl":650,"c":-10.2,"ab":"Spherical","st":"d"},{"wl":661,"c":-10.09,"ab":"Spherical","st":"d"}
]},
"data":{"name":"d"},
"encoding":{
 "x":{"field":"wl","type":"quantitative","scale":{"domain":[325,675],"nice":false,"zero":false},"axis":{"values":[350,400,450,500,550,600,650],"title":"λ (nm)","titleFontSize":37,"titleY":75,"titleBaseline":"alphabetic","labelPadding":26,"labelFlush":false}},
 "y":{"field":"c","type":"quantitative","scale":{"domain":[-12,-6],"nice":false,"zero":false},"axis":{"values":[-12,-11,-10,-9,-8,-7,-6],"labelExpr":"''+datum.value","title":"Contrast","titleFontSize":30,"titleX":-72,"titleY":293,"titleAngle":-90,"titleAlign":"center","titleBaseline":"middle","labelPadding":27}}
},
"layer":[
 {"mark":{"type":"line","clip":true,"strokeWidth":3,"interpolate":"monotone"},
  "encoding":{
   "color":{"field":"ab","type":"nominal","scale":{"domain":["Spherical","Hor Tref","Hor Coma","Vert Coma","Tilt","Unab."],"range":["#EDB120","#FF0000","#0000FF","#0000FF","#000000","#000000"]},"legend":null},
   "strokeDash":{"field":"st","type":"nominal","scale":{"domain":["s","d"],"range":[[1,0],[14,8]]},"legend":null}
  }},
 {"transform":[{"filter":"datum.m==1 && datum.ab=='Tilt'"}],
  "mark":{"type":"point","shape":"triangle-left","size":170,"filled":false,"color":"#000000","strokeWidth":2.6,"opacity":1,"clip":true}},
 {"transform":[{"filter":"datum.m==1 && datum.ab=='Vert Coma'"}],
  "mark":{"type":"point","shape":"circle","size":190,"filled":true,"color":"#0000FF","opacity":1,"clip":true}},
 {"transform":[{"filter":"datum.m==1 && datum.ab=='Hor Coma'"}],
  "mark":{"type":"point","shape":"M-1,-1L1,1M-1,1L1,-1","size":70,"filled":false,"color":"#0000FF","strokeWidth":2.6,"opacity":1,"clip":true}},
 {"transform":[{"filter":"datum.m==1 && datum.ab=='Hor Tref'"}],
  "mark":{"type":"point","shape":"triangle-down","size":200,"filled":false,"color":"#FF0000","strokeWidth":2.6,"opacity":1,"clip":true}},
 {"transform":[{"filter":"datum.m==1 && datum.ab=='Spherical'"}],
  "mark":{"type":"point","shape":"circle","size":170,"filled":false,"color":"#EDB120","strokeWidth":2.6,"opacity":1,"clip":true}},
 {"transform":[{"filter":"datum.wl==661 && datum.st=='s'"}],
  "mark":{"type":"point","filled":true,"strokeWidth":2.6,"opacity":0},
  "encoding":{
   "shape":{"field":"ab","type":"nominal","scale":{"domain":["Unab.","Tilt","Vert Coma","Hor Coma","Hor Tref","Spherical"],"range":["M-3.1,0H3.1","M-3.1,0H3.1M-0.65,0L0.6,-0.65L0.6,0.65Z","M-3.1,0H3.1M0.55,0A0.55,0.55 0 1,1 -0.55,0A0.55,0.55 0 1,1 0.55,0ZM0.35,0A0.35,0.35 0 1,1 -0.35,0A0.35,0.35 0 1,1 0.35,0ZM0.15,0A0.15,0.15 0 1,1 -0.15,0A0.15,0.15 0 1,1 0.15,0Z","M-3.1,0H3.1M-0.4,-0.4L0.4,0.4M-0.4,0.4L0.4,-0.4","M-3.1,0H3.1M-0.7,-0.6L0.7,-0.6L0,0.7Z","M-3.1,0H3.1M0.6,0A0.6,0.6 0 1,1 -0.6,0A0.6,0.6 0 1,1 0.6,0Z"]},
     "legend":{"title":null,"orient":"none","legendX":1308,"legendY":7,"symbolSize":400,"symbolStrokeWidth":2.6,"labelFont":"Liberation Sans","labelFontSize":26,"labelColor":"black","labelOffset":24,"rowPadding":8,"padding":0}},
   "stroke":{"field":"ab","type":"nominal","scale":{"domain":["Unab.","Tilt","Vert Coma","Hor Coma","Hor Tref","Spherical"],"range":["#000000","#000000","#0000FF","#0000FF","#FF0000","#EDB120"]},
     "legend":{"title":null,"orient":"none","legendX":1308,"legendY":7,"symbolSize":400,"symbolStrokeWidth":2.6,"labelFont":"Liberation Sans","labelFontSize":26,"labelColor":"black","labelOffset":24,"rowPadding":8,"padding":0}},
   "fill":{"field":"ab","type":"nominal","scale":{"domain":["Unab.","Tilt","Vert Coma","Hor Coma","Hor Tref","Spherical"],"range":["transparent","transparent","#0000FF","transparent","transparent","transparent"]},
     "legend":{"title":null,"orient":"none","legendX":1308,"legendY":7,"symbolSize":400,"symbolStrokeWidth":2.6,"labelFont":"Liberation Sans","labelFontSize":26,"labelColor":"black","labelOffset":24,"rowPadding":8,"padding":0}}
  }}
]
}
